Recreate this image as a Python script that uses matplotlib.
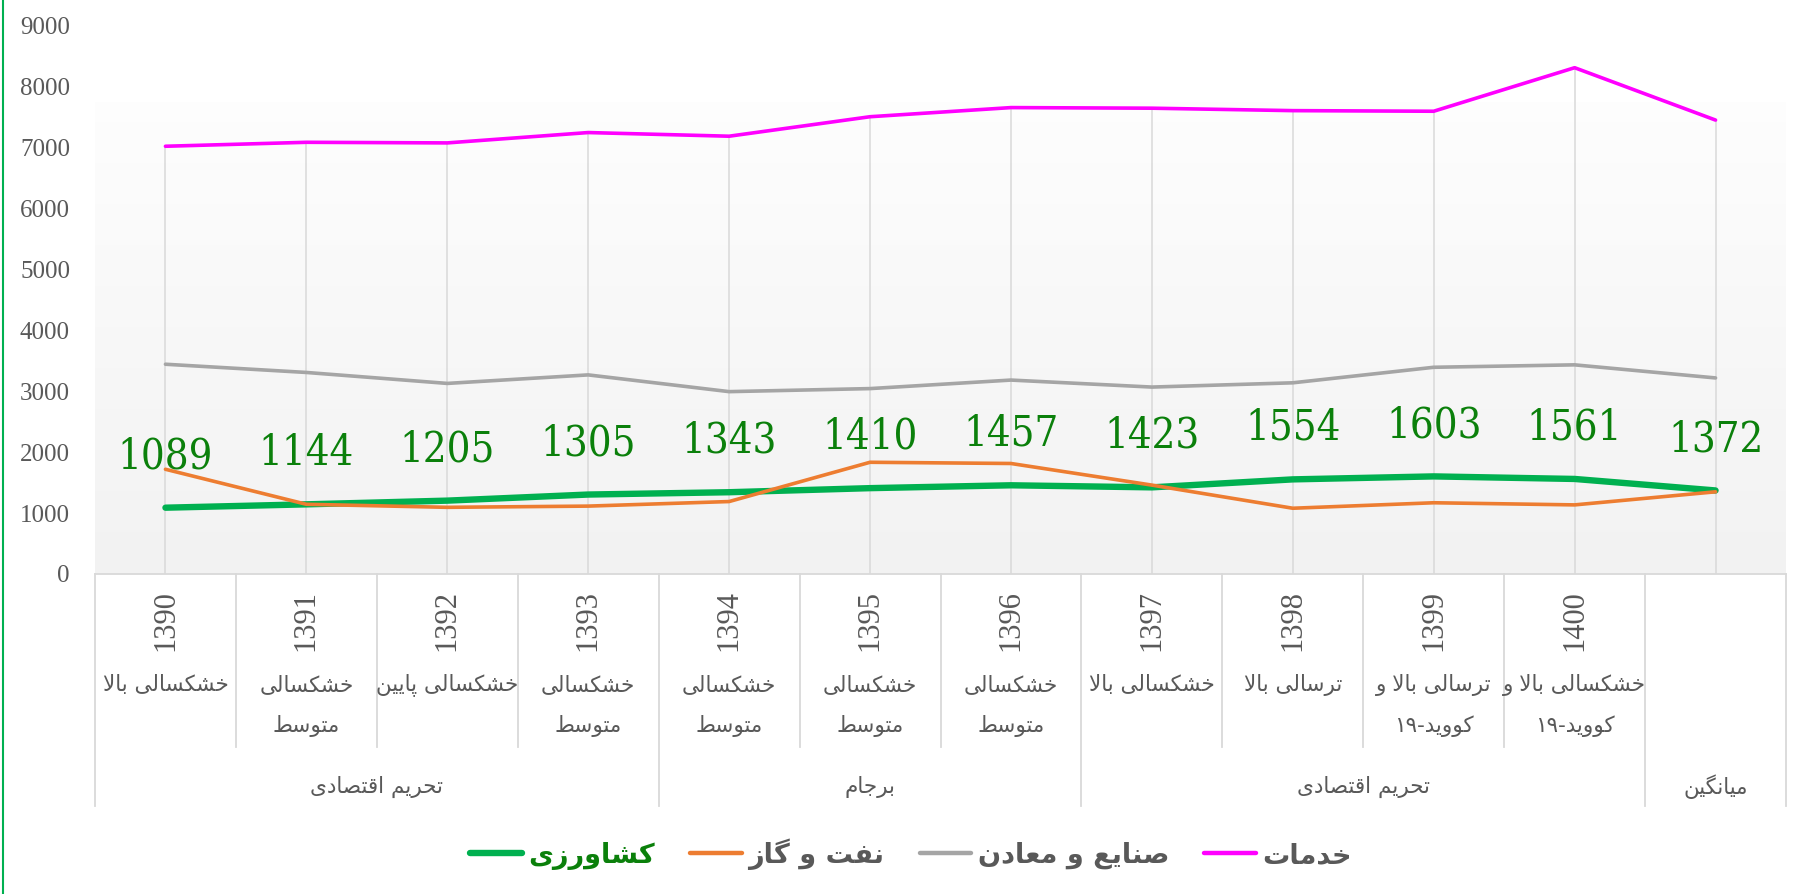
import numpy as np
import matplotlib
matplotlib.use('Agg')
import matplotlib.pyplot as plt
from matplotlib.transforms import blended_transform_factory
from matplotlib.lines import Line2D

# ---------------- data ----------------
years = ['1390', '1391', '1392', '1393', '1394', '1395', '1396',
         '1397', '1398', '1399', '1400', '']
conditions = ['خشکسالی بالا', 'خشکسالی\nمتوسط', 'خشکسالی پایین', 'خشکسالی\nمتوسط',
              'خشکسالی\nمتوسط', 'خشکسالی\nمتوسط', 'خشکسالی\nمتوسط', 'خشکسالی بالا',
              'ترسالی بالا', 'ترسالی بالا و\nکووید-۱۹', 'خشکسالی بالا و\nکووید-۱۹', '']
group_names = ['تحریم اقتصادی', 'برجام', 'تحریم اقتصادی', 'میانگین']
group_sizes = [4, 3, 4, 1]
series_names = ['کشاورزی', 'نفت و گاز', 'صنایع و معادن', 'خدمات']
agriculture = [1089, 1144, 1205, 1305, 1343, 1410, 1457, 1423, 1554, 1603, 1561, 1372]
oil_gas = [1720, 1145, 1095, 1115, 1190, 1835, 1815, 1460, 1080, 1170, 1135, 1350]
industry = [3445, 3310, 3130, 3270, 2995, 3045, 3185, 3070, 3140, 3395, 3435, 3220]
services = [7025, 7090, 7080, 7250, 7190, 7510, 7660, 7650, 7610, 7600, 8315, 7455]
y_ticks = [0, 1000, 2000, 3000, 4000, 5000, 6000, 7000, 8000, 9000]

# ---------------- minimal Persian shaping (presentation forms, visual order) ----------------
_F = {
    'ا': (0xFE8D, 0xFE8E, None, None), 'د': (0xFEA9, 0xFEAA, None, None),
    'ر': (0xFEAD, 0xFEAE, None, None), 'ز': (0xFEAF, 0xFEB0, None, None),
    'و': (0xFEED, 0xFEEE, None, None),
    'ب': (0xFE8F, 0xFE90, 0xFE91, 0xFE92), 'پ': (0xFB56, 0xFB57, 0xFB58, 0xFB59),
    'ت': (0xFE95, 0xFE96, 0xFE97, 0xFE98), 'ج': (0xFE9D, 0xFE9E, 0xFE9F, 0xFEA0),
    'ح': (0xFEA1, 0xFEA2, 0xFEA3, 0xFEA4), 'خ': (0xFEA5, 0xFEA6, 0xFEA7, 0xFEA8),
    'س': (0xFEB1, 0xFEB2, 0xFEB3, 0xFEB4), 'ش': (0xFEB5, 0xFEB6, 0xFEB7, 0xFEB8),
    'ص': (0xFEB9, 0xFEBA, 0xFEBB, 0xFEBC), 'ط': (0xFEC1, 0xFEC2, 0xFEC3, 0xFEC4),
    'ع': (0xFEC9, 0xFECA, 0xFECB, 0xFECC), 'ف': (0xFED1, 0xFED2, 0xFED3, 0xFED4),
    'ق': (0xFED5, 0xFED6, 0xFED7, 0xFED8), 'ک': (0xFB8E, 0xFB8F, 0xFB90, 0xFB91),
    'گ': (0xFB92, 0xFB93, 0xFB94, 0xFB95), 'ل': (0xFEDD, 0xFEDE, 0xFEDF, 0xFEE0),
    'م': (0xFEE1, 0xFEE2, 0xFEE3, 0xFEE4), 'ن': (0xFEE5, 0xFEE6, 0xFEE7, 0xFEE8),
    'ه': (0xFEE9, 0xFEEA, 0xFEEB, 0xFEEC), 'ی': (0xFBFC, 0xFBFD, 0xFBFE, 0xFBFF),
}


def _dual(c):
    return c in _F and _F[c][2] is not None


def _shape_line(s):
    out = []
    i = 0
    n = len(s)
    while i < n:
        c = s[i]
        if c not in _F:
            out.append(c)
            i += 1
            continue
        jp = i > 0 and _dual(s[i - 1])
        if c == 'ل' and i + 1 < n and s[i + 1] == 'ا':
            out.append(chr(0xFEFC if jp else 0xFEFB))
            i += 2
            continue
        jn = _dual(c) and i + 1 < n and s[i + 1] in _F
        iso, fin, ini, med = _F[c]
        if jp and jn:
            out.append(chr(med))
        elif jp:
            out.append(chr(fin))
        elif jn:
            out.append(chr(ini))
        else:
            out.append(chr(iso))
        i += 1
    # visual order: reverse, keeping digit runs left-to-right
    rev = out[::-1]
    res, run = [], []
    digits = set('0123456789۰۱۲۳۴۵۶۷۸۹')
    for ch in rev:
        if ch in digits:
            run.append(ch)
        else:
            if run:
                res.extend(run[::-1])
                run = []
            res.append(ch)
    if run:
        res.extend(run[::-1])
    return ''.join(res)


def fa(s):
    return '\n'.join(_shape_line(l) for l in s.split('\n'))


# ---------------- figure ----------------
W, H = 1797, 894
fig = plt.figure(figsize=(W / 100, H / 100), dpi=100)
fig.patch.set_facecolor('white')

ax_left, ax_right = 95 / W, 1786 / W
ax_bottom = (H - 574) / H
ax_top = (H - 26) / H
ax = fig.add_axes([ax_left, ax_bottom, ax_right - ax_left, ax_top - ax_bottom])
ax.set_facecolor('white')

n = len(years)
x = np.arange(n)
ax.set_xlim(-0.5, n - 0.5)
ax.set_ylim(0, 9000)

# gradient plot-area fill (light at top, light grey at bottom)
grad_top = 7750
grad = np.linspace(0.994, 0.949, 256).reshape(-1, 1)
ax.imshow(np.dstack([grad, grad, grad]), extent=(-0.5, n - 0.5, 0, grad_top),
          origin='upper', aspect='auto', zorder=0, interpolation='bicubic')

# drop lines
top_vals = np.max(np.vstack([agriculture, oil_gas, industry, services]), axis=0)
ax.vlines(x, 0, top_vals, colors='#d9d9d9', linewidth=1.1, zorder=1)

# series
ax.plot(x, services, color='#ff00ff', lw=2.6, zorder=3, solid_capstyle='round', solid_joinstyle='round')
ax.plot(x, industry, color='#a5a5a5', lw=2.6, zorder=3, solid_capstyle='round', solid_joinstyle='round')
ax.plot(x, oil_gas, color='#ed7d31', lw=2.6, zorder=4, solid_capstyle='round', solid_joinstyle='round')
ax.plot(x, agriculture, color='#00b050', lw=4.6, zorder=3, solid_capstyle='round', solid_joinstyle='round')

# data labels
for xi, v in zip(x, agriculture):
    ax.annotate(str(v), (xi, v), xytext=(0, 37), textcoords='offset points',
                ha='center', va='center', fontsize=30, color='#0b800b',
                family='DejaVu Serif', fontstretch='condensed', zorder=5)

# axes styling
for s in ['left', 'right', 'top']:
    ax.spines[s].set_visible(False)
ax.spines['bottom'].set_color('#d9d9d9')
ax.spines['bottom'].set_linewidth(1.3)
ax.set_yticks(y_ticks)
ax.set_yticklabels([str(t) for t in y_ticks], family='Liberation Serif', fontsize=18, color='#595959')
ax.tick_params(axis='y', length=0, pad=18)
ax.set_xticks([])

# multi-level category axis
tr = blended_transform_factory(ax.transData, fig.transFigure)
y_axis = ax_bottom
y_lvl1 = (H - 747) / H
y_lvl2 = (H - 806) / H
group_edges = np.cumsum([0] + group_sizes)
for i in range(n + 1):
    bottom = y_lvl2 if i in group_edges else y_lvl1
    ax.plot([i - 0.5, i - 0.5], [y_axis, bottom], transform=tr, color='#d9d9d9',
            lw=1.3, clip_on=False, zorder=2)

for xi, yr, cond in zip(x, years, conditions):
    if yr:
        ax.text(xi, (H - 590) / H, yr, transform=tr, rotation=90, ha='center', va='top',
                fontsize=22, family='Liberation Serif', color='#595959')
    lines = cond.split('\n') if cond else []
    for k, ln in enumerate(lines):
        ax.text(xi, (H - (685 + 41 * k)) / H, fa(ln), transform=tr, ha='center', va='center',
                fontsize=15.5, family='DejaVu Sans', color='#595959')

for gname, a, b in zip(group_names, group_edges[:-1], group_edges[1:]):
    ax.text((a + b - 1) / 2, (H - 787) / H, fa(gname), transform=tr, ha='center', va='center',
            fontsize=15.5, family='DejaVu Sans', color='#595959')

# legend
colors = ['#00b050', '#ed7d31', '#a5a5a5', '#ff00ff']
widths = [4.6, 3.2, 3.2, 3.2]
handles = [Line2D([0], [0], color=c, lw=w, solid_capstyle='round') for c, w in zip(colors, widths)]
leg = fig.legend(handles, [fa(s) for s in series_names], loc='center',
                 bbox_to_anchor=(0.507, (H - 854) / H), ncol=4, frameon=False,
                 prop={'family': 'DejaVu Sans', 'weight': 'bold', 'size': 19.5},
                 handlelength=1.9, handletextpad=0.25, columnspacing=1.3)
for t, c in zip(leg.get_texts(), ['#0b800b', '#595959', '#595959', '#595959']):
    t.set_color(c)

# chart-area left border
fig.add_artist(Line2D([2.5 / W, 2.5 / W], [0, 1], color='#00b050', lw=1.5,
                      transform=fig.transFigure))

fig.savefig('out.png', dpi=100, facecolor='white')
